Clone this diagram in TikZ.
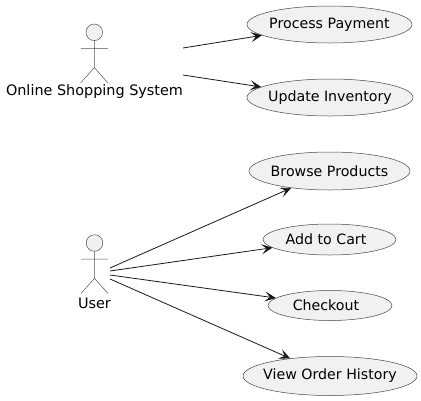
\documentclass[tikz,border=0pt]{standalone}
\usepackage{fontspec}
\setmainfont{DejaVu Sans}
\definecolor{umlfill}{RGB}{241,241,241}
\definecolor{umlline}{RGB}{24,24,24}
\usetikzlibrary{arrows.meta,positioning,shapes.geometric}

\begin{document}
\begin{tikzpicture}[
  x=1pt, y=-1pt,
  ucase/.style={ellipse, draw=umlline!80, line width=0.5pt, fill=umlfill, inner xsep=-30pt, inner ysep=0pt,
                font=\fontsize{14.2}{16}\selectfont, text=black},
  alabel/.style={font=\fontsize{14.4}{16}\selectfont, text=black, inner sep=0pt},
  arr/.style={-{Stealth[length=11pt, width=10pt, inset=5pt]}, line width=0.8pt, draw=umlline},
  actor/.pic={
    \draw[umlline!75, line width=0.5pt, fill=umlfill] (0,-16) circle (8.3pt);
    \draw[umlline!75, line width=0.5pt] (0,-7.7) -- (0,19.3) (-13.5,0) -- (13.5,0)
      (-13.5,34.5) -- (0,19.3) -- (13.5,34.5);
  }
]
\useasboundingbox (0,0) rectangle (421,400);

% Actors
\pic at (94.3,48.3) {actor};
\node[alabel] (sys) at (94.5,92) {Online Shopping System};
\pic at (94.5,259) {actor};
\node[alabel] (user) at (94.5,303) {User};

% Use cases, system side
\node[ucase, minimum width=165pt, minimum height=37pt] (pay) at (329.5,24.5) {Process Payment};
\node[ucase, minimum width=166pt, minimum height=37pt] (inv) at (330,97.5) {Update Inventory};

% Use cases, user side
\node[ucase, minimum width=161pt, minimum height=38pt] (browse) at (329.5,171) {Browse Products};
\node[ucase, minimum width=133pt, minimum height=31pt] (cart) at (329.5,239.5) {\kern-7pt Add to Cart};
\node[ucase, minimum width=124pt, minimum height=30pt] (check) at (330,305.5) {\kern-8pt Checkout};
\node[ucase, minimum width=174pt, minimum height=39pt] (hist) at (330,376) {View Order History};

% Free ends beside the actors
\coordinate (sys1) at (183,48);
\coordinate (sys2) at (183,75);
\coordinate (user1) at (110,268);
\coordinate (user2) at (110,271);
\coordinate (user3) at (110,275);
\coordinate (user4) at (110,279);

% Arrows
\draw[arr] (sys1) -- (pay);
\draw[arr] (sys2) -- (inv);
\draw[arr] (user1) -- (browse);
\draw[arr] (user2) -- (cart);
\draw[arr] (user3) -- (check);
\draw[arr] (user4) -- (hist);
\end{tikzpicture}
\end{document}
